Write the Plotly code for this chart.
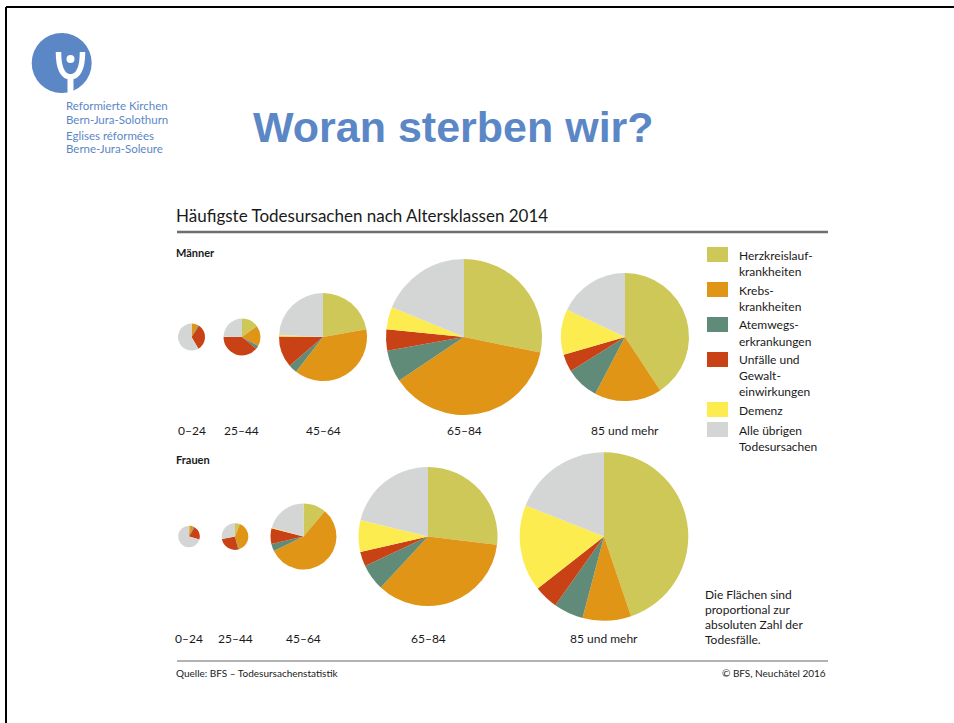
import plotly.graph_objects as go

W, H = 954, 723

# ---------------- data ----------------
causes = ["Herzkreislaufkrankheiten", "Krebskrankheiten", "Atemwegserkrankungen",
          "Unfälle und Gewalteinwirkungen", "Demenz", "Alle übrigen Todesursachen"]
legend_lines = [["Herzkreislauf-", "krankheiten"], ["Krebs-", "krankheiten"],
                ["Atemwegs-", "erkrankungen"], ["Unfälle und", "Gewalt-", "einwirkungen"],
                ["Demenz"], ["Alle übrigen", "Todesursachen"]]
colors = ["#cec858", "#e09516", "#608b79", "#c94216", "#fdec50", "#d4d6d5"]
age_groups = ["0–24", "25–44", "45–64", "65–84", "85 und mehr"]

# total deaths per age class (estimated from circle areas)
men_totals = [450, 840, 4770, 14990, 10090]
women_totals = [290, 440, 2680, 11900, 17500]

# shares (%) per cause, in the order of `causes`
men_0_24 = [0.5, 7.5, 1.5, 32.0, 0.0, 58.5]
men_25_44 = [15.0, 18.0, 3.0, 39.0, 0.3, 24.7]
men_45_64 = [22.2, 38.3, 3.2, 11.5, 0.5, 24.3]
men_65_84 = [28.2, 37.4, 6.6, 4.4, 4.6, 18.8]
men_85 = [40.7, 17.0, 8.4, 4.4, 11.5, 18.0]

women_0_24 = [1.0, 6.0, 1.5, 21.0, 0.0, 70.5]
women_25_44 = [6.0, 39.0, 1.0, 26.0, 0.3, 27.7]
women_45_64 = [11.2, 56.5, 3.6, 7.7, 0.4, 20.6]
women_65_84 = [26.9, 35.0, 6.1, 3.4, 7.4, 21.2]
women_85 = [44.8, 9.3, 5.7, 4.6, 16.6, 19.0]

men_shares = [men_0_24, men_25_44, men_45_64, men_65_84, men_85]
women_shares = [women_0_24, women_25_44, women_45_64, women_65_84, women_85]

logo_lines = ["Reformierte Kirchen", "Bern-Jura-Solothurn", "Eglises réformées", "Berne-Jura-Soleure"]

# ---------------- layout helpers ----------------
def fx(px):
    return px / W

def fy(py):
    return 1 - py / H

SCALE = 0.6372  # px radius per sqrt(death)
men_cx = [191.5, 242, 323, 464, 625]
women_cx = [189, 235, 303.5, 428, 604]
men_cy, women_cy = 337, 536.5

FONT = "Lato, 'Open Sans', sans-serif"
BLUE = "#5b87c6"

fig = go.Figure()

def add_pie(shares, total, cx, cy, name):
    r = SCALE * total ** 0.5
    fig.add_trace(go.Pie(
        labels=causes, values=shares, name=name,
        marker=dict(colors=colors, line=dict(width=0)),
        sort=False, direction="clockwise", rotation=0,
        textinfo="none", showlegend=False,
        domain=dict(x=[fx(cx - r), fx(cx + r)], y=[fy(cy + r), fy(cy - r)]),
    ))

for i, g in enumerate(age_groups):
    add_pie(men_shares[i], men_totals[i], men_cx[i], men_cy, "Männer " + g)
    add_pie(women_shares[i], women_totals[i], women_cx[i], women_cy, "Frauen " + g)

shapes = []
annotations = []

def text(px, py, s, size=12, color="#1a1a1a", anchor="left", bold=False, family=FONT):
    annotations.append(dict(
        x=fx(px), y=fy(py), xref="paper", yref="paper", text=("<b>%s</b>" % s) if bold else s,
        showarrow=False, xanchor=anchor, yanchor="middle", borderpad=0, borderwidth=0,
        font=dict(family=family, size=size, color=color)))

def line(x0, y0, x1, y1, color, width):
    shapes.append(dict(type="line", xref="paper", yref="paper",
                       x0=fx(x0), y0=fy(y0), x1=fx(x1), y1=fy(y1),
                       line=dict(color=color, width=width)))

# slide border
line(6, 7, W, 7, "black", 2)
line(6, 7, 6, H, "black", 2)

# logo
shapes.append(dict(type="circle", xref="paper", yref="paper",
                   x0=fx(31.7), x1=fx(91.7), y0=fy(93), y1=fy(33),
                   fillcolor=BLUE, line=dict(width=0)))
path = "M %f %f C %f %f, %f %f, %f %f C %f %f, %f %f, %f %f" % (
    fx(58.5), fy(52), fx(58.5), fy(70), fx(63), fy(76.5), fx(70.5), fy(77),
    fx(78), fy(76.5), fx(82.5), fy(70), fx(82.5), fy(52))
shapes.append(dict(type="path", xref="paper", yref="paper", path=path,
                   line=dict(color="white", width=5.5)))
line(70.5, 76, 70.5, 93, "white", 6)
shapes.append(dict(type="circle", xref="paper", yref="paper",
                   x0=fx(66.5), x1=fx(74.5), y0=fy(63), y1=fy(55),
                   fillcolor="white", line=dict(width=0)))
for s, py in zip(logo_lines, [105.5, 119.5, 135, 149]):
    text(66, py, s, size=11.5, color=BLUE)

# main title
text(453, 127, "Woran sterben wir?", size=43, color=BLUE, anchor="center", bold=True,
     family="'Liberation Sans', Arial, sans-serif")

# chart title and rules
text(176, 215, "Häufigste Todesursachen nach Altersklassen 2014", size=17)
line(177, 232, 828, 232, "#6e6e6e", 2.5)
line(177, 661, 828, 661, "#9a9a9a", 1.5)

text(176, 253, "Männer", size=11, bold=True)
text(176, 460, "Frauen", size=11, bold=True)

for i, g in enumerate(age_groups):
    text(men_cx[i], 430, g, size=12, anchor="center")
    text(women_cx[i], 638, g, size=12, anchor="center")

# legend
sq_tops = [247, 282, 317, 352, 402, 422]
line_starts = [255, 290, 325, 359, 410, 430]
for i in range(len(causes)):
    shapes.append(dict(type="rect", xref="paper", yref="paper",
                       x0=fx(707), x1=fx(728), y0=fy(sq_tops[i] + 15), y1=fy(sq_tops[i]),
                       fillcolor=colors[i], line=dict(width=0)))
    for j, s in enumerate(legend_lines[i]):
        text(739, line_starts[i] + 16 * j, s, size=12)

for j, s in enumerate(["Die Flächen sind", "proportional zur", "absoluten Zahl der", "Todesfälle."]):
    text(705, 594 + 15 * j, s, size=12)

text(176, 673, "Quelle: BFS – Todesursachenstatistik", size=10)
text(826, 673, "© BFS, Neuchâtel 2016", size=10, anchor="right")

fig.update_layout(
    width=W, height=H, margin=dict(l=0, r=0, t=0, b=0),
    paper_bgcolor="white", plot_bgcolor="white",
    shapes=shapes, annotations=annotations, showlegend=False,
)

fig.write_html("out.html", config={"displayModeBar": False},
               post_script="document.body.style.margin='0px';"
                           "document.body.style.overflow='hidden';"
                           "document.documentElement.style.overflow='hidden';")
